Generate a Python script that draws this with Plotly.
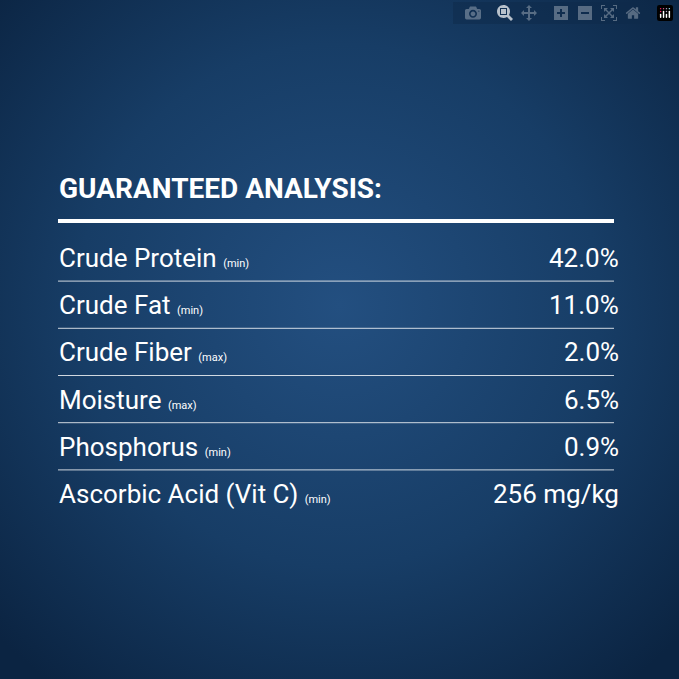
import base64
import plotly.graph_objects as go

nutrients = ["Crude Protein", "Crude Fat", "Crude Fiber", "Moisture", "Phosphorus", "Ascorbic Acid (Vit C)"]
qualifiers = ["(min)", "(min)", "(max)", "(max)", "(min)", "(min)"]
amounts = ["42.0%", "11.0%", "2.0%", "6.5%", "0.9%", "256 mg/kg"]
title = "GUARANTEED ANALYSIS:"

W = H = 679
FONT = "Roboto, Arial"

svg = f"""<svg xmlns='http://www.w3.org/2000/svg' width='{W}' height='{H}'>
<defs><radialGradient id='g' cx='50%' cy='45%' r='70%'>
<stop offset='0%' stop-color='#234f80'/><stop offset='55%' stop-color='#173d66'/>
<stop offset='100%' stop-color='#0b2442'/></radialGradient></defs>
<rect width='{W}' height='{H}' fill='url(#g)'/></svg>"""
bg = "data:image/svg+xml;base64," + base64.b64encode(svg.encode()).decode()

fig = go.Figure()
fig.add_layout_image(source=bg, xref="x", yref="y", x=0, y=0, sizex=W, sizey=H,
                     xanchor="left", yanchor="top", sizing="stretch", layer="below")

fig.add_annotation(x=57, y=188, text=f"<b>{title}</b>", xanchor="left", yanchor="middle",
                   showarrow=False, font=dict(family=FONT, size=28, color="white"))
fig.add_shape(type="line", x0=58, x1=614, y0=221, y1=221, line=dict(color="white", width=4))

row0, step = 258, 47.2
for i, (name, q, val) in enumerate(zip(nutrients, qualifiers, amounts)):
    y = row0 + step * i
    fig.add_annotation(x=57, y=y, text=f"{name} <span style='font-size:11px'>{q}</span>",
                       xanchor="left", yanchor="middle", showarrow=False,
                       font=dict(family=FONT, size=26, color="white"))
    fig.add_annotation(x=621, y=y, text=val, xanchor="right", yanchor="middle", showarrow=False,
                       font=dict(family=FONT, size=26, color="white"))
    if i < len(nutrients) - 1:
        ys = y + step / 2 - 0.5
        fig.add_shape(type="line", x0=58, x1=614, y0=ys, y1=ys,
                      line=dict(color="rgba(255,255,255,0.8)", width=1))

fig.update_xaxes(range=[0, W], visible=False)
fig.update_yaxes(range=[H, 0], visible=False)
fig.update_layout(width=W, height=H, margin=dict(l=0, r=0, t=0, b=0),
                  paper_bgcolor="#0d2a4a", plot_bgcolor="#0d2a4a", showlegend=False)
fig.write_html("out.html", post_script="document.body.style.margin='0';")
